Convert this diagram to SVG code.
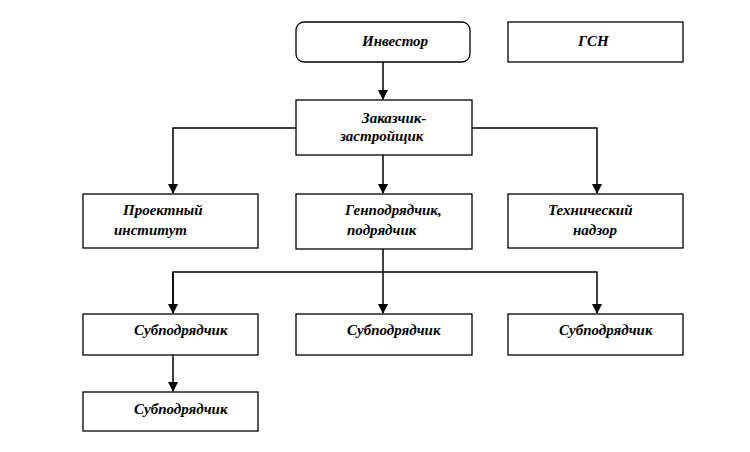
<svg xmlns="http://www.w3.org/2000/svg" width="750" height="452" viewBox="0 0 750 452">
<defs>
<marker id="ah" markerWidth="10" markerHeight="10" refX="9" refY="5" orient="auto" markerUnits="userSpaceOnUse"><path d="M0,0 L10,5 L0,10 Z" fill="#000"/></marker>
</defs>
<style>
.n{fill:#fff;stroke:#000;stroke-width:1.3}
text{font-family:"Liberation Serif",serif;font-size:15px;font-weight:bold;font-style:italic;fill:#000}
.c{fill:none;stroke:#000;stroke-width:1.5}
</style>
<rect width="750" height="452" fill="#fff"/>
<g id="connectors">
<path class="c" d="M383,62 V99" marker-end="url(#ah)"/>
<path class="c" d="M296,128 H173 V193" marker-end="url(#ah)"/>
<path class="c" d="M472,128 H597 V193" marker-end="url(#ah)"/>
<path class="c" d="M383,155 V193" marker-end="url(#ah)"/>
<path class="c" d="M383,249 V313" marker-end="url(#ah)"/>
<path class="c" d="M173,313 V272 H597 V313" marker-end="url(#ah)"/>
<path class="c" d="M173,272 V313" marker-end="url(#ah)"/>
<path class="c" d="M173,355 V391" marker-end="url(#ah)"/>
</g>
<g id="investor"><rect class="n" x="296" y="22" width="174" height="40" rx="8"/><text x="362" y="46">Инвестор</text></g>
<g id="gsn"><rect class="n" x="508" y="22" width="175" height="40"/><text x="578" y="46">ГСН</text></g>
<g id="zakazchik"><rect class="n" x="296" y="100" width="176" height="55"/><text x="362" y="123">Заказчик-</text><text x="340" y="141">застройщик</text></g>
<g id="proekt"><rect class="n" x="83" y="194" width="175" height="54"/><text x="123" y="215">Проектный</text><text x="114" y="235">институт</text></g>
<g id="genpodr"><rect class="n" x="296" y="194" width="176" height="55"/><text x="345" y="215">Генподрядчик,</text><text x="347" y="235">подрядчик</text></g>
<g id="tehnadzor"><rect class="n" x="508" y="194" width="175" height="54"/><text x="548" y="215">Технический</text><text x="573" y="235">надзор</text></g>
<g id="sub1"><rect class="n" x="83" y="314" width="175" height="41"/><text x="134" y="335">Субподрядчик</text></g>
<g id="sub2"><rect class="n" x="296" y="314" width="176" height="41"/><text x="347" y="335">Субподрядчик</text></g>
<g id="sub3"><rect class="n" x="508" y="314" width="175" height="41"/><text x="559" y="335">Субподрядчик</text></g>
<g id="sub4"><rect class="n" x="83" y="392" width="175" height="39"/><text x="134" y="414">Субподрядчик</text></g>
</svg>
